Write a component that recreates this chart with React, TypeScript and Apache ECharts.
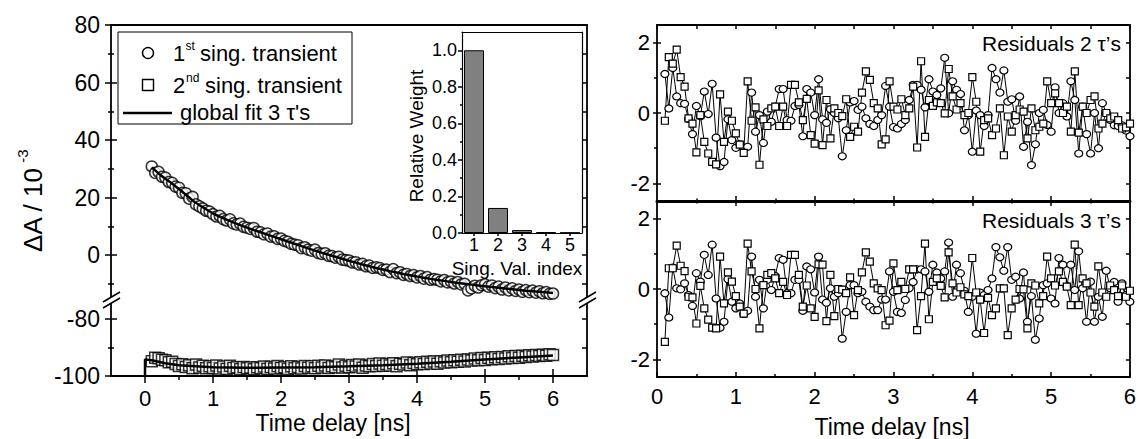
import { useEffect, useRef } from 'react';
import * as echarts from 'echarts';

const FONT = '"Liberation Sans", Arial, Helvetica, sans-serif';

// time grid of the measured transients (ns)
const delayStart = 0.1;
const delayStep = 0.05;

// 1st singular transient (ΔA / 10^-3)
const singTransient1 = [
  30.8, 28.6, 28.9, 27.2, 26.9, 25.4, 25.1, 23.8, 23.4, 21.6,
  21.5, 19.6, 20.2, 17.6, 16.9, 16.2, 15.4, 15.1, 14.2, 13.4,
  13.6, 12.5, 12.0, 12.4, 11.0, 10.6, 10.9, 9.8, 9.5, 9.1,
  9.4, 8.1, 7.9, 7.2, 7.5, 6.4, 6.5, 5.6, 5.7, 4.9,
  4.6, 3.9, 3.6, 3.4, 2.4, 2.7, 1.9, 1.5, 1.9, 0.7,
  0.4, 0.6, -0.3, -0.4, -0.9, -0.6, -1.6, -1.8, -1.9, -2.6,
  -2.5, -3.3, -3.1, -3.9, -3.7, -4.5, -4.3, -4.5, -5.2, -5.1,
  -5.9, -4.9, -6.3, -6.0, -6.9, -6.6, -7.3, -7.0, -7.8, -7.3,
  -8.2, -7.7, -8.6, -8.4, -8.6, -9.2, -8.7, -9.5, -9.2, -9.9,
  -9.4, -10.2, -10.0, -12.3, -11.6, -10.7, -11.3, -10.5, -10.2, -11.0,
  -10.6, -11.5, -11.0, -12.0, -11.3, -12.3, -11.6, -12.5, -12.0, -12.8,
  -12.2, -12.9, -12.4, -13.1, -12.6, -13.3, -12.9, -13.5, -13.4,
];

// 2nd singular transient (ΔA / 10^-3)
const singTransient2 = [
  -94.8, -93.6, -93.8, -94.3, -94.5, -95.2, -95.0, -95.8, -96.5, -95.9,
  -96.8, -96.2, -97.3, -96.0, -97.0, -96.4, -97.3, -96.6, -97.2, -96.3,
  -97.4, -96.7, -97.5, -96.4, -97.2, -96.9, -97.6, -96.8, -97.3, -97.0,
  -97.6, -96.9, -97.3, -96.7, -97.5, -96.8, -97.4, -96.5, -97.2, -96.9,
  -97.5, -96.6, -97.3, -96.8, -97.4, -96.5, -97.1, -96.6, -97.3, -96.4,
  -97.0, -96.3, -97.2, -96.6, -96.9, -96.0, -97.0, -96.4, -96.9, -96.1,
  -96.7, -96.0, -97.1, -96.3, -96.6, -95.8, -96.5, -95.6, -96.4, -95.8,
  -96.3, -95.5, -96.6, -95.7, -96.0, -95.3, -96.2, -95.4, -95.9, -95.2,
  -95.8, -95.0, -95.6, -94.9, -95.7, -94.8, -95.3, -94.6, -95.2, -94.5,
  -95.0, -94.3, -94.9, -94.2, -94.6, -93.9, -94.5, -93.7, -94.4, -93.6,
  -94.1, -93.4, -94.0, -93.3, -93.9, -93.1, -93.7, -93.0, -93.6, -92.9,
  -93.3, -92.7, -93.2, -92.6, -93.0, -92.5, -92.9, -92.4, -92.6,
];

// global fit (3 τ's)
const fit1Delay = [0.1, 0.25, 0.4, 0.55, 0.7, 0.85, 1.0, 1.2, 1.4, 1.6, 1.8, 2.0, 2.2, 2.4, 2.6, 2.8, 3.0, 3.2, 3.4, 3.6, 3.8, 4.0, 4.2, 4.4, 4.6, 4.8, 5.0, 5.2, 5.4, 5.6, 5.8, 6.0];
const fit1Value = [30.5, 27.4, 24.8, 22.0, 19.0, 16.6, 14.5, 12.3, 10.4, 8.7, 7.1, 5.5, 3.9, 2.3, 0.8, -0.6, -2.0, -3.3, -4.5, -5.6, -6.6, -7.5, -8.3, -9.0, -9.7, -10.3, -10.9, -11.4, -11.9, -12.4, -12.8, -13.2];
const fit2Delay = [0, 0, 0.1, 0.2, 0.3, 0.5, 0.75, 1.0, 1.5, 2.0, 2.5, 3.0, 3.5, 4.0, 4.5, 5.0, 5.5, 6.0];
const fit2Value = [-100, -94.2, -94.5, -95.0, -95.5, -96.2, -96.6, -96.9, -97.1, -97.0, -96.9, -96.6, -96.2, -95.7, -95.0, -94.2, -93.5, -92.8];

// inset: singular values
const svIndex = [1, 2, 3, 4, 5];
const svWeight = [1.0, 0.137, 0.016, 0.004, 0.002];

// residuals, 2 τ's
const res2Circle = [
  1.11, 0.13, 1.28, 0.47, 0.28, 0.26, -0.17, -0.6, 0.2, -0.09,
  0.61, -0.03, 0.83, -0.7, -1.51, -1.39, -0.18, -0.77, -0.99, -0.89,
  -1.0, -0.96, 0.58, -0.53, -0.06, -0.85, 0.04, -0.25, 0.18, 0.68,
  0.68, -0.2, -0.22, 0.2, 0.23, -0.66, 0.68, 0.58, -0.06, 0.96,
  -0.18, -0.28, 0.11, 0.0, -0.15, -1.23, -0.49, 0.3, 0.34, 0.09,
  0.18, -0.15, -0.31, -0.37, -0.2, -0.06, 0.77, 0.18, -0.4, -0.44,
  -0.31, -0.2, 0.37, 0.8, 0.8, 0.66, 0.16, 0.96, 0.61, 0.51,
  0.7, 1.57, -0.01, 0.9, 0.66, 0.54, -0.49, -0.06, -1.1, 0.07,
  -0.06, -0.37, -0.06, 1.28, 0.96, 0.58, 1.21, 0.32, 0.39, -0.22,
  0.47, -0.96, -0.25, -1.48, -0.89, 0.0, 0.09, -0.34, -0.53, 0.73,
  0.0, 0.28, -0.1, 0.9, 0.37, -1.15, 0.18, -0.6, -1.15, 0.0,
  -1.0, 0.28, 0.0, -0.2, -0.35, -0.37, -0.35, -0.5, -0.66,
];
const res2Square = [
  -0.22, 1.59, 1.4, 1.8, 1.02, 0.75, -0.15, -0.3, -1.12, -0.06,
  -0.82, -1.15, -1.39, -1.46, 0.53, -0.82, 0.04, -0.22, -0.58, -0.9,
  -1.13, 0.9, -0.22, 0.16, -1.47, -0.18, -0.37, 0.13, 0.18, -0.37,
  0.18, -0.37, 0.8, 0.8, 0.3, -0.2, 0.4, -0.63, -0.87, 0.64,
  -0.91, 0.37, -0.72, 0.13, 0.0, -0.09, 0.39, -0.68, -0.39, -0.53,
  0.58, 1.18, 0.94, 0.28, 0.13, -0.89, -0.75, 0.9, 0.18, 0.1,
  0.39, -0.06, 0.13, 0.75, -0.98, 1.47, -0.68, 0.37, 0.2, 0.3,
  0.28, -0.01, 1.25, 0.47, 0.1, 0.28, -0.06, 0.0, 1.02, 0.32,
  -1.1, -0.2, -0.15, -0.63, -0.44, 0.13, -1.2, -0.1, -0.53, -0.06,
  0.1, 0.04, -0.72, 0.13, -0.49, -0.39, -0.3, 0.9, 0.28, 0.56,
  0.28, 0.0, 0.18, -0.53, 1.18, -0.56, 0.18, 0.0, 0.37, 0.47,
  -0.44, -0.3, 0.0, -0.15, -0.1, -0.2, -0.44, -0.41, -0.3,
];

// residuals, 3 τ's
const res3Circle = [
  -0.12, -0.81, 0.61, 0.02, -0.01, 0.16, -0.17, -0.48, 0.45, 0.21,
  0.97, 0.4, 1.26, -0.27, -1.1, -0.93, 0.28, -0.36, -0.55, -0.41,
  -0.71, -0.62, 0.92, -0.22, 0.26, -0.55, 0.26, -0.03, 0.37, 0.88,
  0.83, -0.12, -0.12, 0.26, 0.26, -0.62, 0.64, 0.56, -0.1, 0.92,
  -0.3, -0.39, 0.02, -0.22, -0.12, -1.41, -0.65, 0.11, 0.11, -0.12,
  -0.08, -0.36, -0.5, -0.6, -0.6, -0.3, -0.3, 0.5, -0.08, -0.65,
  -0.68, -0.31, 0.02, 0.2, 0.56, 0.56, 0.5, -0.08, 0.69, 0.47,
  0.3, 0.5, 1.32, -0.22, 0.69, 0.45, -0.05, -0.65, -0.22, -1.27,
  -0.1, -0.17, -0.03, 0.3, 1.19, 0.9, 0.52, 1.19, 0.26, 0.35,
  -0.27, 0.47, -0.93, -0.2, -1.44, -0.84, 0.11, 0.16, -0.27, -0.41,
  0.88, 0.69, 0.09, 0.69, -0.03, 1.07, 0.02, -0.93, 0.21, -0.93,
  -0.22, -0.79, 0.52, 0.02, 0.2, -0.36, 0.16, -0.17, -0.36,
];
const res3Square = [
  -1.5, 0.59, 0.59, 1.23, 0.66, 0.51, -0.22, -0.24, -0.98, 0.09,
  -0.55, -0.87, -1.1, -1.12, 0.92, -0.41, 0.47, 0.21, -0.2, -0.5,
  -0.7, 1.29, 0.5, 0.0, -1.12, 0.11, 0.4, 0.45, 0.3, -0.12,
  0.2, -0.17, 0.97, 0.97, 0.4, -0.5, 0.1, -0.55, -0.79, 0.7,
  0.69, -0.91, 0.4, -0.77, 0.0, -0.02, -0.12, 0.33, -0.74, -0.03,
  0.47, 1.04, 0.78, 0.16, 0.02, -0.03, -1.03, -0.9, 0.73, -0.03,
  0.2, 0.0, 0.56, 0.56, -1.17, -0.2, 1.29, -0.86, 0.2, 0.3,
  0.09, -0.24, 1.04, 0.16, -0.1, 0.05, -0.15, -0.2, 0.88, -0.1,
  -0.3, -1.25, -0.25, -0.74, -0.55, 0.02, 0.02, -1.31, -0.55, -0.3,
  0.0, -0.01, -1.12, 0.16, 0.1, -0.41, -0.2, 0.92, 0.3, 0.1,
  0.5, 0.2, 0.07, -0.46, 1.26, -0.46, 0.3, 0.16, -0.1, -0.5,
  0.64, -0.1, -0.22, 0.1, -0.03, -0.2, 0.1, -0.22, -0.05,
];

// tick / label values
const leftXLabels = [0, 1, 2, 3, 4, 5, 6];
const leftXMinor = [0.5, 1.5, 2.5, 3.5, 4.5, 5.5];
const upperYLabels = [0, 20, 40, 60, 80];
const upperYMinor = [-10, 10, 30, 50, 70];
const upperYRight = [-10, 0, 10, 20, 30, 40, 50, 60, 70, 80];
const lowerYLabels = [-100, -80];
const lowerYMinor = [-90];
const lowerYRight = [-100, -90, -80];
const insetYLabels = [0, 0.2, 0.4, 0.6, 0.8, 1.0];
const insetYMinor = [0.1, 0.3, 0.5, 0.7, 0.9];
const resXLabels = [0, 1, 2, 3, 4, 5, 6];
const resXInner = [1, 2, 3, 4, 5];
const resXHalf = [0.5, 1.5, 2.5, 3.5, 4.5, 5.5];
const resXTop = [0, 0.5, 1, 1.5, 2, 2.5, 3, 3.5, 4, 4.5, 5, 5.5, 6];
const resYLabels = [-2, 0, 2];
const resYMinor = [-1, 1];
const resYRight = [-2, -1, 0, 1, 2];

const delay = singTransient1.map((_, i) => Math.round((delayStart + delayStep * i) * 100) / 100);
const pts = (ys: number[]) => ys.map((y, i) => [delay[i], y]);
const pairs = (xs: number[], ys: number[]) => xs.map((x, i) => [x, ys[i]]);

const LW = 1.8;

type AxO = {
  line?: number;
  ticks?: number[];
  len?: number;
  inside?: boolean;
  labels?: number[];
  size?: number;
  margin?: number;
  fmt?: (v: number) => string;
};

function ax(grid: number, min: number, max: number, position: string, o: AxO = {}) {
  return {
    type: 'value',
    gridIndex: grid,
    min,
    max,
    position,
    axisLine: { show: !!o.line, onZero: false, lineStyle: { color: '#000', width: o.line || 1 } },
    axisTick: o.ticks
      ? { show: true, customValues: o.ticks, inside: !!o.inside, length: o.len ?? 5, lineStyle: { color: '#000', width: 1.5 } }
      : { show: false },
    axisLabel: o.labels
      ? {
          show: true,
          customValues: o.labels,
          color: '#000',
          fontSize: o.size ?? 22,
          fontFamily: FONT,
          margin: o.margin ?? 8,
          formatter: o.fmt ?? ((v: number) => String(v)),
        }
      : { show: false },
    splitLine: { show: false },
    minorTick: { show: false },
  };
}

function txt(text: string, x: number, y: number, size: number, align = 'left', rotation = 0) {
  return {
    type: 'text',
    x,
    y,
    rotation,
    silent: true,
    style: {
      text,
      fill: '#000',
      fontSize: size,
      fontFamily: FONT,
      align,
      verticalAlign: 'middle',
      textAlign: align,
      textVerticalAlign: 'middle',
    },
  };
}

const black = { stroke: '#000', lineWidth: 1.4, fill: '#fff' };

export default function App() {
  const ref = useRef<HTMLDivElement>(null);

  useEffect(() => {
    if (!ref.current) return;
    const chart = echarts.init(ref.current, undefined, { renderer: 'svg' });

    const UY: [number, number] = [-15.65, 80];
    const LY: [number, number] = [-100, -73.33];

    const xAxis = [
      ax(0, -0.5, 6.5, 'top', { line: LW }), // 0
      ax(1, -0.5, 6.5, 'bottom', { line: LW, ticks: leftXLabels, len: 7, labels: leftXLabels, size: 22, margin: 11 }), // 1
      ax(1, -0.5, 6.5, 'bottom', { ticks: leftXLabels, len: 7, inside: true }), // 2
      ax(1, -0.5, 6.5, 'bottom', { ticks: leftXMinor, len: 4 }), // 3
      ax(2, 0.5, 5.5, 'bottom', { line: 1.2, ticks: svIndex, len: 3, labels: svIndex, size: 18, margin: 3 }), // 4
      ax(2, 0.5, 5.5, 'top', { line: 1.2 }), // 5
      ax(3, 0, 6, 'top', { line: LW, ticks: resXTop, len: 4, inside: true }), // 6
      ax(3, 0, 6, 'bottom', { line: 3, ticks: resXInner, len: 5, inside: true }), // 7
      ax(3, 0, 6, 'bottom', { ticks: resXHalf, len: 2.5, inside: true }), // 8
      ax(4, 0, 6, 'top', { ticks: resXInner, len: 5, inside: true }), // 9
      ax(4, 0, 6, 'top', { ticks: resXHalf, len: 2.5, inside: true }), // 10
      ax(4, 0, 6, 'bottom', { line: LW, ticks: resXLabels, len: 5, inside: true, labels: resXLabels, size: 22, margin: 8 }), // 11
      ax(4, 0, 6, 'bottom', { ticks: resXHalf, len: 3, inside: true }), // 12
    ];

    const resY = (g: number) => [
      ax(g, -2.5, 2.5, 'left', { line: LW, ticks: resYLabels, len: 4, labels: resYLabels, size: 22, margin: 7 }),
      ax(g, -2.5, 2.5, 'left', { ticks: resYLabels, len: 4, inside: true }),
      ax(g, -2.5, 2.5, 'left', { ticks: resYMinor, len: 3 }),
      ax(g, -2.5, 2.5, 'right', { line: LW, ticks: resYRight, len: 4, inside: true }),
    ];

    const yAxis = [
      ax(0, UY[0], UY[1], 'left', { line: LW, ticks: upperYLabels, len: 6, labels: upperYLabels, size: 23, margin: 11 }), // 0
      ax(0, UY[0], UY[1], 'left', { ticks: upperYLabels, len: 6, inside: true }), // 1
      ax(0, UY[0], UY[1], 'left', { ticks: upperYMinor, len: 3 }), // 2
      ax(0, UY[0], UY[1], 'left', { ticks: upperYMinor, len: 3, inside: true }), // 3
      ax(0, UY[0], UY[1], 'right', { line: LW, ticks: upperYRight, len: 5, inside: true }), // 4
      ax(1, LY[0], LY[1], 'left', { line: LW, ticks: lowerYLabels, len: 6, labels: lowerYLabels, size: 23, margin: 11 }), // 5
      ax(1, LY[0], LY[1], 'left', { ticks: lowerYLabels, len: 6, inside: true }), // 6
      ax(1, LY[0], LY[1], 'left', { ticks: lowerYMinor, len: 3 }), // 7
      ax(1, LY[0], LY[1], 'left', { ticks: lowerYMinor, len: 3, inside: true }), // 8
      ax(1, LY[0], LY[1], 'right', { line: LW, ticks: lowerYRight, len: 5, inside: true }), // 9
      ax(2, 0, 1.1, 'left', { line: 1.2, ticks: insetYLabels, len: 4, labels: insetYLabels, size: 18, margin: 5, fmt: (v) => v.toFixed(1) }), // 10
      ax(2, 0, 1.1, 'left', { ticks: insetYMinor, len: 2 }), // 11
      ax(2, 0, 1.1, 'right', { line: 1.2 }), // 12
      ...resY(3), // 13-16
      ...resY(4), // 17-20
    ];

    const markStyle = { color: '#fff', borderColor: '#000', borderWidth: 1.5 };
    const resLine = (data: number[][], xi: number, yi: number, symbol: string, size: number | number[]) => ({
      type: 'line',
      xAxisIndex: xi,
      yAxisIndex: yi,
      data,
      symbol,
      symbolSize: size,
      showSymbol: true,
      showAllSymbol: true,
      silent: true,
      lineStyle: { color: '#000', width: 1 },
      itemStyle: { color: '#fff', borderColor: '#000', borderWidth: 1.2 },
      z: 3,
    });

    chart.setOption({
      animation: false,
      backgroundColor: '#fff',
      grid: [
        { left: 111, top: 25, width: 476, height: 275 },
        { left: 111, top: 300, width: 476, height: 76 },
        { left: 462, top: 32, width: 120, height: 201 },
        { left: 657, top: 25, width: 473, height: 176 },
        { left: 657, top: 201, width: 473, height: 176 },
      ],
      xAxis,
      yAxis,
      series: [
        {
          type: 'scatter', xAxisIndex: 0, yAxisIndex: 0, data: pts(singTransient1),
          symbol: 'circle', symbolSize: 11, itemStyle: markStyle, silent: true, z: 2,
        },
        {
          type: 'line', xAxisIndex: 0, yAxisIndex: 0, data: pairs(fit1Delay, fit1Value),
          symbol: 'none', smooth: 0.3, lineStyle: { color: '#000', width: 2.5 }, silent: true, z: 4,
        },
        {
          type: 'scatter', xAxisIndex: 1, yAxisIndex: 5, data: pts(singTransient2),
          symbol: 'rect', symbolSize: 11, itemStyle: markStyle, silent: true, z: 2,
        },
        {
          type: 'line', xAxisIndex: 1, yAxisIndex: 5, data: pairs(fit2Delay, fit2Value),
          symbol: 'none', lineStyle: { color: '#000', width: 2.5 }, silent: true, z: 4,
        },
        {
          type: 'bar', xAxisIndex: 4, yAxisIndex: 10, data: pairs(svIndex, svWeight), barWidth: 20,
          itemStyle: { color: '#808080', borderColor: '#000', borderWidth: 1 }, silent: true,
        },
        resLine(pts(res2Circle), 6, 13, 'circle', [8, 7]),
        resLine(pts(res2Square), 6, 13, 'rect', 7),
        resLine(pts(res3Circle), 11, 17, 'circle', [8, 7]),
        resLine(pts(res3Square), 11, 17, 'rect', 7),
      ],
      graphic: [
        // axis breaks
        { type: 'polygon', silent: true, shape: { points: [[103, 302], [120, 292], [120, 298], [103, 308]] }, style: { fill: '#fff' }, z: 100 },
        { type: 'line', silent: true, shape: { x1: 103, y1: 302, x2: 120, y2: 292 }, style: { stroke: '#000', lineWidth: 1.5 }, z: 101 },
        { type: 'line', silent: true, shape: { x1: 103, y1: 308, x2: 120, y2: 298 }, style: { stroke: '#000', lineWidth: 1.5 }, z: 101 },
        { type: 'polygon', silent: true, shape: { points: [[579, 302], [596, 292], [596, 298], [579, 308]] }, style: { fill: '#fff' }, z: 100 },
        { type: 'line', silent: true, shape: { x1: 579, y1: 302, x2: 596, y2: 292 }, style: { stroke: '#000', lineWidth: 1.5 }, z: 101 },
        { type: 'line', silent: true, shape: { x1: 579, y1: 308, x2: 596, y2: 298 }, style: { stroke: '#000', lineWidth: 1.5 }, z: 101 },
        // legend
        { type: 'rect', silent: true, shape: { x: 118, y: 32, width: 234, height: 92 }, style: { stroke: '#000', lineWidth: 1, fill: '#fff' }, z: 50 },
        { type: 'circle', silent: true, shape: { cx: 148, cy: 53, r: 5.5 }, style: black, z: 51 },
        { type: 'rect', silent: true, shape: { x: 142.5, y: 79.5, width: 11, height: 11 }, style: black, z: 51 },
        { type: 'line', silent: true, shape: { x1: 123, y1: 113, x2: 172, y2: 113 }, style: { stroke: '#000', lineWidth: 2.5 }, z: 51 },
        { ...txt('1', 173, 53, 22), z: 51 },
        { ...txt('st', 185.5, 46, 12), z: 51 },
        { ...txt('sing. transient', 200, 53, 22), z: 51 },
        { ...txt('2', 173, 85, 22), z: 51 },
        { ...txt('nd', 186, 78, 12), z: 51 },
        { ...txt('sing. transient', 205, 85, 22), z: 51 },
        { ...txt("global fit 3 τ's", 180, 112, 22), z: 51 },
        // axis titles
        { ...txt('ΔA / 10', 33, 210, 26, 'center', Math.PI / 2), z: 51 },
        { ...txt('-3', 22, 156, 15, 'center', Math.PI / 2), z: 51 },
        { ...txt('Time delay [ns]', 333, 423, 23, 'center'), z: 51 },
        { ...txt('Time delay [ns]', 892, 427, 23, 'center'), z: 51 },
        { ...txt('Relative Weight', 416, 136, 19, 'center', Math.PI / 2), z: 51 },
        { ...txt('Sing. Val. index', 517, 268, 19, 'center'), z: 51 },
        { ...txt('Residuals 2 τ’s', 1121, 43, 21, 'right'), z: 51 },
        { ...txt('Residuals 3 τ’s', 1121, 220, 21, 'right'), z: 51 },
      ],
    });

    return () => chart.dispose();
  }, []);

  return (
    <div
      ref={ref}
      style={{ position: 'fixed', left: 0, top: 0, width: 1139, height: 439, background: '#fff' }}
    />
  );
}
